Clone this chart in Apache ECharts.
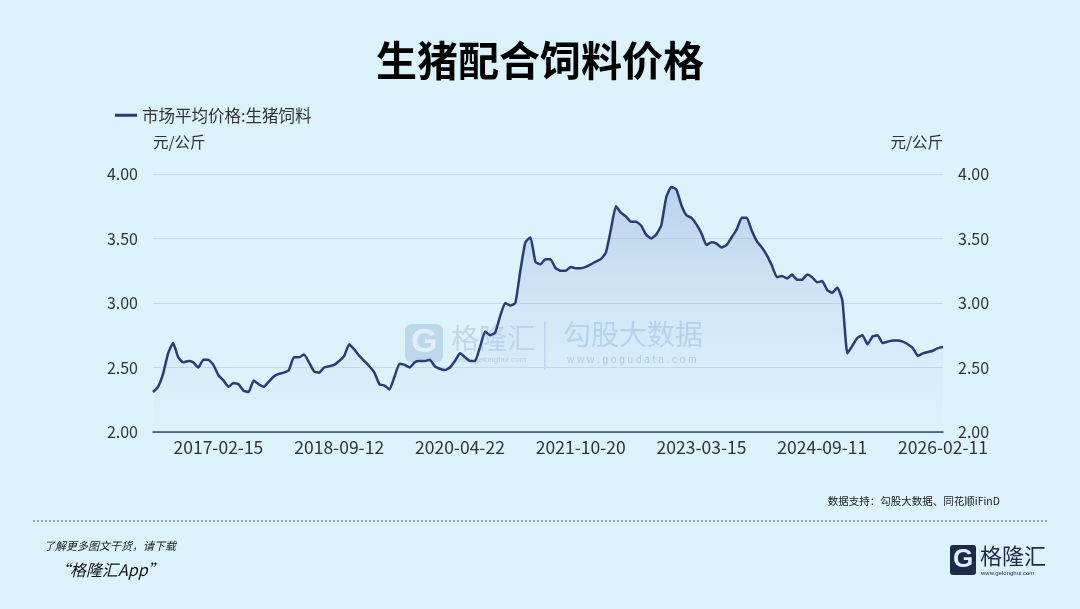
<!DOCTYPE html>
<html>
<head>
<meta charset="utf-8">
<script src="https://cdn.jsdelivr.net/npm/echarts@6/dist/echarts.min.js"></script>
<style>
html,body{margin:0;padding:0;background:#dcf3fd;}
#chart{width:1080px;height:609px;}
</style>
</head>
<body>
<div id="chart"></div>
<script>
// Tick labels shown on the x axis (equally spaced on a category axis)
var tickLabels = ['2017-02-15','2018-09-12','2020-04-22','2021-10-20','2023-03-15','2024-09-11','2026-02-11'];
var pointsPerTick = 24;   // categories between two tick labels
var leadPoints = 13;      // categories before the first tick label

// 市场平均价格:生猪饲料 (元/公斤)
var feedPrice = [
2.31,2.35,2.45,2.61,2.69,2.58,2.54,2.55,2.54,2.50,2.56,2.56,2.52,2.44,2.40,2.35,2.38,2.37,2.32,2.31,
2.40,2.37,2.35,2.39,2.43,2.45,2.46,2.48,2.58,2.58,2.60,2.54,2.47,2.46,2.50,2.51,2.52,2.55,2.59,2.68,
2.64,2.59,2.55,2.51,2.46,2.37,2.36,2.33,2.43,2.53,2.52,2.50,2.54,2.55,2.55,2.56,2.51,2.49,2.48,2.50,
2.55,2.61,2.58,2.55,2.55,2.66,2.78,2.75,2.77,2.90,3.00,2.98,3.00,3.25,3.47,3.51,3.32,3.30,3.34,3.34,
3.27,3.25,3.25,3.28,3.27,3.27,3.28,3.30,3.32,3.34,3.39,3.57,3.75,3.70,3.67,3.63,3.63,3.60,3.53,3.50,
3.53,3.60,3.82,3.90,3.88,3.76,3.68,3.66,3.61,3.54,3.45,3.47,3.46,3.43,3.45,3.51,3.57,3.66,3.66,3.56,
3.48,3.43,3.37,3.29,3.20,3.21,3.19,3.22,3.18,3.18,3.22,3.20,3.16,3.17,3.10,3.08,3.12,3.02,2.61,2.67,
2.73,2.75,2.68,2.74,2.75,2.69,2.70,2.71,2.71,2.70,2.68,2.65,2.59,2.61,2.62,2.63,2.65,2.66
];

// Build category dates: tick dates at fixed category steps, dates in between spread evenly
function parseD(s){var p=s.split('-');return Date.UTC(+p[0],+p[1]-1,+p[2]);}
function fmt(t){var d=new Date(t);function z(n){return (n<10?'0':'')+n;}return d.getUTCFullYear()+'-'+z(d.getUTCMonth()+1)+'-'+z(d.getUTCDate());}
var categories = [];
(function(){
  var tt = tickLabels.map(parseD);
  var step0 = (tt[1]-tt[0])/pointsPerTick;
  for (var i=0;i<feedPrice.length;i++){
    var j=i-leadPoints, t;
    if (j<0) t = tt[0]+j*step0;
    else {
      var k=Math.min(Math.floor(j/pointsPerTick), tt.length-2);
      var f=(j-k*pointsPerTick)/pointsPerTick;
      t = tt[k]+(tt[k+1]-tt[k])*f;
    }
    categories.push(fmt(Math.round(t/86400000)*86400000));
  }
})();

var navy = '#2b3a78';
var cjk = '"Noto Sans CJK SC", "Noto Sans", sans-serif';
var chart = echarts.init(document.getElementById('chart'), null, {renderer:'canvas'});
chart.setOption({
  backgroundColor:'#dcf3fd',
  animation:false,
  textStyle:{fontFamily:cjk},
  title:{
    text:'生猪配合饲料价格', left:'center', top:35,
    textStyle:{fontSize:41, fontWeight:'bold', color:'#000', fontFamily:cjk}
  },
  legend:{
    left:110, top:102, icon:'rect', itemWidth:22, itemHeight:3, itemGap:10,
    textStyle:{fontSize:16.5, color:'#333', fontFamily:cjk},
    data:['市场平均价格:生猪饲料']
  },
  grid:{left:153, right:137, top:174, bottom:177, containLabel:false},
  xAxis:{
    type:'category', data:categories, boundaryGap:false,
    axisLine:{lineStyle:{color:navy, width:1.5}},
    axisTick:{show:false},
    axisLabel:{
      color:'#333', fontSize:17.5, margin:7, fontFamily:cjk,
      interval:function(i){return i>=leadPoints && (i-leadPoints)%pointsPerTick===0;}
    },
    splitLine:{show:false}
  },
  yAxis:[{
    type:'value', min:2, max:4, interval:0.5, position:'left',
    name:'元/公斤', nameLocation:'end', nameGap:24,
    nameTextStyle:{color:'#333', fontSize:15.5, align:'left', fontFamily:cjk},
    axisLine:{show:false}, axisTick:{show:false},
    axisLabel:{color:'#333', fontSize:16, margin:15, formatter:function(v){return v.toFixed(2);}},
    splitLine:{lineStyle:{color:'#c3dbe8', width:1.2}}
  },{
    type:'value', min:2, max:4, interval:0.5, position:'right',
    name:'元/公斤', nameLocation:'end', nameGap:24,
    nameTextStyle:{color:'#333', fontSize:15.5, align:'right', fontFamily:cjk},
    axisLine:{show:false}, axisTick:{show:false},
    axisLabel:{color:'#333', fontSize:16, margin:15, formatter:function(v){return v.toFixed(2);}},
    splitLine:{show:false}
  }],
  series:[{
    name:'市场平均价格:生猪饲料', type:'line', data:feedPrice, yAxisIndex:0,
    showSymbol:false, smooth:0.15,
    lineStyle:{color:navy, width:2.5},
    itemStyle:{color:navy},
    areaStyle:{color:new echarts.graphic.LinearGradient(0,0,0,1,[
      {offset:0, color:'rgba(110,135,195,0.45)'},
      {offset:1, color:'rgba(200,225,245,0.1)'}
    ])},
    z:3
  }],
  graphic:[
    // watermark
    {type:'group', left:405, top:320, silent:true, z:1, children:[
      {type:'rect', shape:{x:0,y:2,width:38,height:38,r:6}, style:{fill:'rgba(90,130,190,0.24)'}},
      {type:'text', style:{x:6, y:4, text:'G', fontSize:34, fontWeight:'bold', fill:'rgba(230,242,252,0.9)', fontFamily:'Arial'}},
      {type:'text', style:{x:46, y:2, text:'格隆汇', fontSize:28, fill:'rgba(90,130,190,0.24)', fontFamily:cjk}},
      {type:'text', style:{x:50, y:34, text:'www.gelonghui.com', fontSize:8, fill:'rgba(90,130,190,0.3)', fontFamily:'Arial'}},
      {type:'rect', shape:{x:139,y:0,width:1.5,height:48}, style:{fill:'rgba(90,130,190,0.22)'}},
      {type:'text', style:{x:158, y:-2, text:'勾股大数据', fontSize:28, fill:'rgba(90,130,190,0.26)', fontFamily:cjk}},
      {type:'text', style:{x:162, y:33, text:'w w w . g o g u d a t a . c o m', fontSize:10, fill:'rgba(90,130,190,0.35)', fontFamily:'Arial'}}
    ]},
    {type:'text', right:80, top:496, style:{text:'数据支持：勾股大数据、同花顺iFinD', fontSize:10.5, fill:'#222', fontFamily:cjk}},
    {type:'line', shape:{x1:33,y1:521,x2:1047,y2:521}, style:{stroke:'#555', lineWidth:1, lineDash:[2,2]}},
    {type:'text', left:44, top:540, style:{text:'了解更多图文干货，请下载', fontSize:11, fill:'#222', fontStyle:'italic', fontFamily:cjk}},
    {type:'text', left:54, top:562, style:{text:'“格隆汇App”', fontSize:16, fill:'#111', fontStyle:'italic', fontFamily:cjk}},
    // logo
    {type:'group', left:950, top:545, children:[
      {type:'rect', shape:{x:0,y:0,width:26,height:30,r:3}, style:{fill:'#1e2a4a'}},
      {type:'text', style:{x:3, y:2, text:'G', fontSize:26, fontWeight:'bold', fill:'#dcf3fd', fontFamily:'Arial'}},
      {type:'text', style:{x:30, y:0, text:'格隆汇', fontSize:22, fill:'#1e2a4a', fontFamily:cjk}},
      {type:'text', style:{x:31, y:25, text:'www.gelonghui.com', fontSize:6, fill:'#1e2a4a', fontFamily:'Arial'}}
    ]}
  ]
});
</script>
</body>
</html>
